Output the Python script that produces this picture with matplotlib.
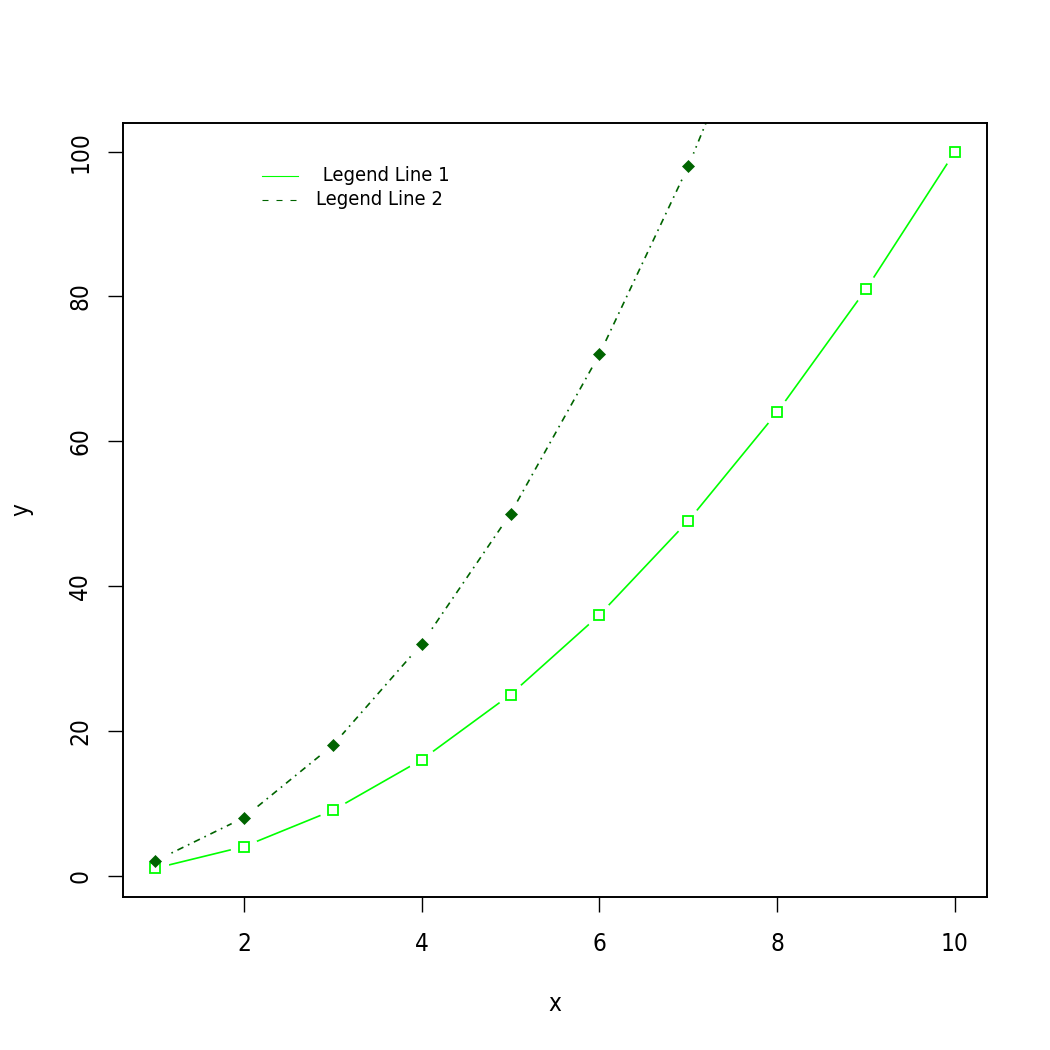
import matplotlib
matplotlib.use("Agg")
import matplotlib.pyplot as plt
import numpy as np

# data
x = np.array([1, 2, 3, 4, 5, 6, 7, 8, 9, 10])
y1 = np.array([1, 4, 9, 16, 25, 36, 49, 64, 81, 100])
y2 = np.array([2, 8, 18, 32, 50, 72, 98, 128, 162, 200])
xticks = [2, 4, 6, 8, 10]
yticks = [0, 20, 40, 60, 80, 100]
legend_labels = [" Legend Line 1", "Legend Line 2"]

plt.rcParams['font.family'] = ['DejaVu Sans']
plt.rcParams['font.stretch'] = 'condensed'

fig = plt.figure(figsize=(10.5, 10.5), dpi=100)
ax = fig.add_axes([0.1171, 0.1457, 0.8229, 0.7372])

# lines (type = "b": gaps around the points)
ax.plot(x, y1, color='#00ff00', lw=1.2, zorder=2)
ax.plot(x, y2, color='#006400', lw=1.2, linestyle=(0, (1, 3, 4, 3)), zorder=2)
# white masks to open gaps around points
ax.plot(x, y1, linestyle='none', marker='o', ms=20, mfc='white', mec='none', zorder=3)
ax.plot(x, y2, linestyle='none', marker='o', ms=20, mfc='white', mec='none', zorder=3)
# markers
ax.plot(x, y1, linestyle='none', marker='s', ms=7.8, mfc='none', mec='#00ff00', mew=1.3, zorder=4)
ax.plot(x, y2, linestyle='none', marker='D', ms=6.5, mfc='#006400', mec='#006400', mew=0.5, zorder=4)

ax.set_xlim(0.64, 10.36)
ax.set_ylim(-2.96, 103.96)
ax.set_xticks(xticks)
ax.set_yticks(yticks)
ax.set_yticklabels([str(v) for v in yticks], rotation=90, va='center')
ax.tick_params(direction='out', length=11, width=1, labelsize=17.5, colors='black')
ax.tick_params(axis='x', pad=14)
ax.tick_params(axis='y', pad=11)
for s in ax.spines.values():
    s.set_linewidth(1.4)

ax.set_xlabel('x', fontsize=17.5, labelpad=26)
ax.set_ylabel('y', fontsize=17.5, labelpad=25)

# legend (no box)
ax.plot([0.1609, 0.2025], [0.9315, 0.9315], transform=ax.transAxes, color='#00ff00', lw=0.8)
ax.plot([0.1609, 0.2025], [0.9005, 0.9005], transform=ax.transAxes, color='#006400', lw=0.8,
        linestyle=(0, (5.4, 7.2)))
ax.text(0.2303 - 0.006, 0.9315, legend_labels[0], transform=ax.transAxes, va='center', fontsize=14.5)
ax.text(0.2234, 0.9005, legend_labels[1], transform=ax.transAxes, va='center', fontsize=14.5)

fig.savefig('out.png', dpi=100)
